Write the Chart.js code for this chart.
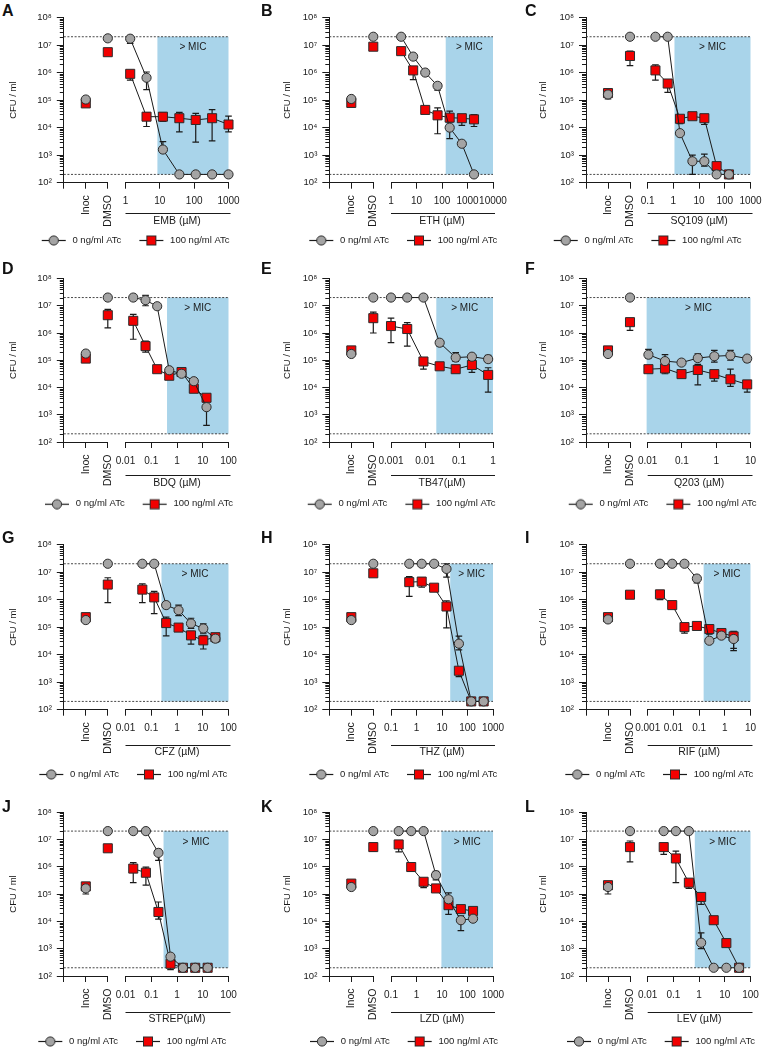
<!DOCTYPE html>
<html>
<head>
<meta charset="utf-8">
<script src="https://cdn.jsdelivr.net/npm/chart.js@4.4.1/dist/chart.umd.min.js"></script>
<style>
  html, body { margin: 0; padding: 0; background: #fff; width: 768px; height: 1049px; overflow: hidden; }
  canvas { position: absolute; }
  .tag { position: absolute; font: bold 16px "Liberation Sans", Arial, sans-serif; line-height: 16px; color: #111; }
</style>
</head>
<body>
<script>
// ---- data ----
const seriesNames = ['0 ng/ml ATc', '100 ng/ml ATc'];
const ctrlLabels = ['Inoc', 'DMSO'];
const yMajor = [1e2, 1e3, 1e4, 1e5, 1e6, 1e7, 1e8];
const yTickLabels = ['10²', '10³', '10⁴', '10⁵', '10⁶', '10⁷', '10⁸'];
const limitHigh = 2e7;
const limitLow = 200;
const panelTags = ['A', 'B', 'C', 'D', 'E', 'F', 'G', 'H', 'I', 'J', 'K', 'L'];
const drugTitles = ['EMB (µM)', 'ETH (µM)', 'SQ109 (µM)', 'BDQ (µM)', 'TB47(µM)', 'Q203 (µM)',
  'CFZ (µM)', 'THZ (µM)', 'RIF (µM)', 'STREP(µM)', 'LZD (µM)', 'LEV (µM)'];
const micValues = [8.5, 140, 1.1, 0.41, 0.0215, 0.0093, 0.25, 21, 0.15, 0.3, 9.5, 0.68];

// values: [Inoc, DMSO, then one per concentration]; errors: [low, high] or null
const concA = [1.37, 4.1, 12.3, 37, 111, 333, 1000];
const grayA = [1.05e5, 1.75e7, 1.7e7, 6.5e5, 1.6e3, 200, 200, 200, 200];
const redA = [7.6e4, 5.5e6, 9e5, 2.5e4, 2.5e4, 2.2e4, 1.9e4, 2.2e4, 1.3e4];
const grayErrA = [null, null, [1.15e7, 2e7], [2.4e5, 1.05e6], [1.3e3, 3.1e3], null, null, null, null];
const redErrA = [null, null, [5.3e5, 1e6], [1.1e4, 3.5e4], [1.7e4, 3.5e4], [7e3, 3.6e4], [3e3, 3.3e4], [3.3e3, 4.5e4], [7e3, 2.6e4]];
const xTicksA = ['1', '10', '100', '1000'];

const concB = [2.5, 7.4, 22, 67, 200, 600, 1800];
const grayB = [1.1e5, 2e7, 2e7, 3.8e6, 1e6, 3.3e5, 1e4, 2.6e3, 200];
const redB = [7.9e4, 8.7e6, 6e6, 1.2e6, 4.4e4, 2.8e4, 2.3e4, 2.2e4, 2e4];
const grayErrB = [null, null, null, null, null, [2.3e5, 4.2e5], [4e3, 2.5e4], null, null];
const redErrB = [null, null, null, [5.5e5, 1.6e6], null, [6e3, 5.2e4], [1.6e4, 4e4], [1.2e4, 3e4], [1.1e4, 3e4]];
const xTicksB = ['1', '10', '100', '1000', '10000'];

const concC = [0.2, 0.6, 1.8, 5.5, 16, 48, 145];
const grayC = [1.6e5, 2e7, 2e7, 2e7, 6.3e3, 6e2, 6e2, 200, 200];
const redC = [1.8e5, 4e6, 1.2e6, 4e5, 2.1e4, 2.6e4, 2.2e4, 4e2, 200];
const grayErrC = [[1.1e5, 2.2e5], null, null, null, null, [200, 1e3], [4e2, 1.1e3], null, null];
const redErrC = [null, [1.8e6, 6e6], [5.3e5, 1.9e6], [1.9e5, 5.6e5], [1.4e4, 2.6e4], null, [1.3e4, 2.6e4], [3.3e2, 5e2], null];
const xTicksC = ['0.1', '1', '10', '100', '1000'];

const concD = [0.02, 0.06, 0.17, 0.5, 1.5, 4.5, 14];
const grayD = [1.76e5, 2e7, 2e7, 1.6e7, 9.6e6, 4.3e4, 3.2e4, 1.7e4, 1.9e3];
const redD = [1.15e5, 4.5e6, 2.8e6, 3.3e5, 4.7e4, 2.7e4, 3.7e4, 9e3, 4.2e3];
const grayErrD = [null, null, null, [1e7, 2.4e7], null, null, null, null, [4.1e2, 3e3]];
const redErrD = [null, [1.55e6, 7.4e6], [5.9e5, 4.8e6], [2e5, 5e5], null, null, null, null, null];
const xTicksD = ['0.01', '0.1', '1', '10', '100'];

const concE = [0.001, 0.003, 0.009, 0.027, 0.08, 0.24, 0.72];
const grayE = [1.7e5, 2e7, 2e7, 2e7, 2e7, 4.4e5, 1.25e5, 1.35e5, 1.1e5];
const redE = [2.3e5, 3.5e6, 1.8e6, 1.4e6, 9e4, 6e4, 4.7e4, 6.7e4, 2.9e4];
const grayErrE = [null, null, null, null, null, [3.3e5, 5.2e5], [9e4, 1.9e5], [1.1e5, 1.6e5], [8.5e4, 1.5e5]];
const redErrE = [null, [1e6, 5.8e6], [4.4e5, 3.5e6], [3.3e5, 2.4e6], [4.7e4, 1.2e5], null, [3.5e4, 6e4], [3.6e4, 1e5], [6.8e3, 5.3e4]];
const xTicksE = ['0.001', '0.01', '0.1', '1'];

const concF = [0.0105, 0.032, 0.097, 0.29, 0.88, 2.6, 8];
const grayF = [1.7e5, 2e7, 1.6e5, 9.3e4, 8.2e4, 1.2e5, 1.4e5, 1.5e5, 1.15e5];
const redF = [2.3e5, 2.5e6, 4.7e4, 5e4, 3.1e4, 4.4e4, 3.1e4, 2e4, 1.3e4];
const grayErrF = [null, null, [1.2e5, 2.5e5], [6.5e4, 1.6e5], null, [9e4, 1.7e5], [8.5e4, 2.3e5], [1e5, 2.3e5], [8.5e4, 1.4e5]];
const redErrF = [null, [1.25e6, 3e6], [3.8e4, 6e4], [3.2e4, 6e4], null, [1.25e4, 7e4], [1.7e4, 4.2e4], [1.1e4, 4.7e4], [6.8e3, 1.7e4]];
const xTicksF = ['0.01', '0.1', '1', '10'];

const concG = [0.045, 0.13, 0.38, 1.15, 3.5, 10.5, 31];
const grayG = [1.8e5, 2e7, 2e7, 2e7, 6.3e5, 4.1e5, 1.35e5, 8.9e4, 3.8e4];
const redG = [2.3e5, 3.5e6, 2.3e6, 1.2e6, 1.4e5, 9.6e4, 5e4, 3.3e4, 4.3e4];
const grayErrG = [null, null, null, null, null, [2.6e5, 6.3e5], [9e4, 2.1e5], [6e4, 1.3e5], [2.8e4, 5e4]];
const redErrG = [null, [7.8e5, 6.2e6], [7.7e5, 3.7e6], [3.1e5, 2e6], [4.8e4, 2.3e5], null, [2.4e4, 7e4], [1.6e4, 5e4], [3.2e4, 5.2e4]];
const xTicksG = ['0.01', '0.1', '1', '10', '100'];

const concH = [0.52, 1.6, 4.9, 15, 46, 140, 430];
const grayH = [1.8e5, 2e7, 2e7, 2e7, 2e7, 1.3e7, 2.5e4, 200, 200];
const redH = [2.3e5, 9e6, 4.3e6, 4.5e6, 2.7e6, 5.6e5, 2.6e3, 200, 200];
const grayErrH = [null, null, null, null, null, [6.5e6, 2e7], [1.5e4, 4.7e4], null, null];
const redErrH = [null, null, [1.3e6, 6.8e6], [2.8e6, 6.3e6], null, [9.3e4, 9e5], [1.6e3, 3e3], null, null];
const xTicksH = ['0.1', '1', '10', '100', '1000'];

const concI = [0.003, 0.009, 0.027, 0.082, 0.25, 0.74, 2.2];
const grayI = [1.9e5, 2e7, 2e7, 2e7, 2e7, 5.8e6, 3.2e4, 4.9e4, 3.7e4];
const redI = [2.3e5, 1.5e6, 1.55e6, 6.3e5, 1e5, 1.1e5, 8.5e4, 6.1e4, 4.6e4];
const grayErrI = [null, null, null, null, null, [4e6, 7e6], null, null, [1.4e4, 6e4]];
const redErrI = [null, null, [1e6, 1.8e6], null, [6e4, 1.2e5], null, [5.5e4, 1e5], null, [1.7e4, 7e4]];
const xTicksI = ['0.001', '0.01', '0.1', '1', '10'];

const concJ = [0.02, 0.062, 0.19, 0.56, 1.7, 5.1, 15.5];
const grayJ = [1.6e5, 2e7, 2e7, 2e7, 3.2e6, 5.1e2, 200, 200, 200];
const redJ = [1.9e5, 4.7e6, 8.5e5, 6e5, 2.2e4, 2.8e2, 200, 200, 200];
const grayErrJ = [[1e5, 2.2e5], null, null, null, [1.7e6, 4.3e6], [2.5e2, 6e2], null, null, null];
const redErrJ = [null, null, [2.6e5, 1.4e6], [2.1e5, 9.6e5], [1.2e4, 5.1e4], [1.7e2, 3.9e2], null, null, null];
const xTicksJ = ['0.01', '0.1', '1', '10', '100'];

const concK = [0.2, 0.62, 1.9, 5.8, 18, 55, 165];
const grayK = [1.8e5, 2e7, 2e7, 2e7, 2e7, 4.9e5, 6.4e4, 1.1e4, 1.25e4];
const redK = [2.4e5, 5.2e6, 6.5e6, 9.7e5, 2.8e5, 1.6e5, 3.9e4, 2.8e4, 2.4e4];
const grayErrK = [null, null, null, null, null, [3.3e5, 6.7e5], [3e4, 1.1e5], [4.6e3, 1.6e4], null];
const redErrK = [null, [3.6e6, 6.5e6], [3.5e6, 7e6], [7e5, 1e6], [1.7e5, 3.3e5], null, [1.8e4, 6e4], null, null];
const xTicksK = ['0.1', '1', '10', '100', '1000'];

const concL = [0.042, 0.125, 0.4, 1.2, 3.7, 11.5, 36];
const grayL = [1.8e5, 2e7, 2e7, 2e7, 2e7, 1.65e3, 200, 200, 200];
const redL = [2.1e5, 5.2e6, 5.2e6, 2e6, 2.6e5, 7.8e4, 1.1e4, 1.6e3, 200];
const grayErrL = [[1e5, 2.4e5], null, null, null, null, [1e3, 3.8e3], null, null, null];
const redErrL = [null, [1.5e6, 8.7e6], [2.8e6, 6e6], [2.6e5, 3.7e6], [1.6e5, 3.3e5], [4.2e4, 9.5e4], null, null, null];
const xTicksL = ['0.01', '0.1', '1', '10', '100'];

const panels = [
  [concA, grayA, redA, grayErrA, redErrA, xTicksA],
  [concB, grayB, redB, grayErrB, redErrB, xTicksB],
  [concC, grayC, redC, grayErrC, redErrC, xTicksC],
  [concD, grayD, redD, grayErrD, redErrD, xTicksD],
  [concE, grayE, redE, grayErrE, redErrE, xTicksE],
  [concF, grayF, redF, grayErrF, redErrF, xTicksF],
  [concG, grayG, redG, grayErrG, redErrG, xTicksG],
  [concH, grayH, redH, grayErrH, redErrH, xTicksH],
  [concI, grayI, redI, grayErrI, redErrI, xTicksI],
  [concJ, grayJ, redJ, grayErrJ, redErrJ, xTicksJ],
  [concK, grayK, redK, grayErrK, redErrK, xTicksK],
  [concL, grayL, redL, grayErrL, redErrL, xTicksL],
];

// ---- layout of the 4x3 grid (page pixels) ----
const colGeo = [
  { left: 0, axis: 63.8, right: 228.5, title: 13.3, tag: 2 },
  { left: 256, axis: 329.3, right: 493, title: 287.7, tag: 261 },
  { left: 512, axis: 586, right: 750.5, title: 543.7, tag: 525 },
];
const rowGeo = [
  { top: 17.5, bottom: 182.7, legend: 240, xtitle: 38, tag: 16.7 },
  { top: 278.5, bottom: 442, legend: 503.7, xtitle: 40.7, tag: 274 },
  { top: 544.5, bottom: 709.7, legend: 774, xtitle: 42.7, tag: 543 },
  { top: 812, bottom: 976, legend: 1041, xtitle: 43.3, tag: 812 },
];
const legendStart = [41.7, 53.3, 41.7, 45, 51.7, 56.7, 39.3, 53.3, 53.3, 38.3, 54, 55];

const FONT = '"Liberation Sans", Arial, sans-serif';
const ink = '#1a1a1a';
const grayFill = '#a4a4a4';
const redFill = '#f20000';
const edge = '#2b2b2b';
const micFill = '#a9d4ea';
const LPAD = 4;       // legend padding
const LEAD = 14;      // blank lead-in of each legend icon (widens the item gap)

function makeIcon(kind) {
  const c = document.createElement('canvas');
  c.width = LEAD + 26; c.height = 12;
  const g = c.getContext('2d');
  g.translate(LEAD, 0);
  g.strokeStyle = ink; g.lineWidth = 1.2;
  g.beginPath(); g.moveTo(0, 6.5); g.lineTo(24, 6.5); g.stroke();
  g.lineWidth = 1;
  if (kind === 'circle') {
    g.beginPath(); g.arc(12, 6.5, 4.6, 0, Math.PI * 2);
    g.fillStyle = grayFill; g.fill(); g.strokeStyle = edge; g.stroke();
  } else {
    g.fillStyle = redFill; g.fillRect(7.5, 2, 9, 9);
    g.strokeStyle = edge; g.strokeRect(7.5, 2, 9, 9);
  }
  return c;
}
const icons = [makeIcon('circle'), makeIcon('rect')];

const extras = {
  id: 'extras',
  beforeDatasetsDraw(chart, args, o) {
    const { ctx, chartArea: a, scales } = chart;
    const y = scales.y, xd = scales.xd;
    const yHi = y.getPixelForValue(o.high), yLo = y.getPixelForValue(o.low);
    const x0 = Math.max(xd.getPixelForValue(o.mic), a.left), x1 = xd.right;
    ctx.save();
    ctx.fillStyle = micFill;
    ctx.fillRect(x0, yHi, x1 - x0, yLo - yHi);
    ctx.fillStyle = ink;
    ctx.font = '10px ' + FONT;
    ctx.textAlign = 'center';
    ctx.textBaseline = 'middle';
    ctx.fillText('> MIC', (x0 + x1) / 2, yHi + 11);
    // detection limits
    ctx.strokeStyle = '#333';
    ctx.lineWidth = 0.9;
    ctx.setLineDash([2, 1.6]);
    [yHi, yLo].forEach(py => {
      ctx.beginPath(); ctx.moveTo(a.left, py); ctx.lineTo(a.right, py); ctx.stroke();
    });
    ctx.setLineDash([]);
    // error bars
    ctx.strokeStyle = ink;
    ctx.lineWidth = 1.2;
    chart.data.datasets.forEach(ds => {
      const xs = scales[ds.xAxisID];
      ds.data.forEach((pt, j) => {
        const e = ds.errors[j];
        if (!e) return;
        const px = xs.getPixelForValue(pt.x);
        const pl = y.getPixelForValue(e[0]), ph = y.getPixelForValue(e[1]);
        ctx.beginPath();
        ctx.moveTo(px, pl); ctx.lineTo(px, ph);
        ctx.moveTo(px - 3.3, pl); ctx.lineTo(px + 3.3, pl);
        ctx.moveTo(px - 3.3, ph); ctx.lineTo(px + 3.3, ph);
        ctx.stroke();
      });
    });
    ctx.restore();
  },
  afterDraw(chart, args, o) {
    const { ctx, chartArea: a, scales } = chart;
    const y = scales.y, xd = scales.xd;
    ctx.save();
    ctx.strokeStyle = ink;
    ctx.lineWidth = 1;
    // minor log ticks on the y axis
    for (let e = 2; e < 8; e++) {
      for (let m = 2; m < 10; m++) {
        const py = Math.round(y.getPixelForValue(m * Math.pow(10, e))) + 0.5;
        ctx.beginPath(); ctx.moveTo(y.right - 4, py); ctx.lineTo(y.right, py); ctx.stroke();
      }
    }
    // rule above the drug axis title
    const ly = Math.round(a.bottom + o.bracket) + 0.5;
    ctx.beginPath(); ctx.moveTo(xd.left, ly); ctx.lineTo(xd.right + 2, ly); ctx.stroke();
    ctx.restore();
  }
};

function series(kind, xAxisID, pts, errs) {
  const round = kind === 0;
  return {
    label: seriesNames[kind],
    xAxisID, yAxisID: 'y',
    data: pts, errors: errs,
    showLine: xAxisID === 'xd',
    borderColor: ink, borderWidth: 1,
    pointStyle: round ? 'circle' : 'rect',
    pointRadius: round ? 4.6 : 6.4,
    pointBackgroundColor: round ? grayFill : redFill,
    pointBorderColor: edge,
    pointBorderWidth: 1,
    clip: false,
  };
}

panels.forEach(([conc, gray, red, grayErr, redErr, xTicks], k) => {
  const cg = colGeo[k % 3], rg = rowGeo[Math.floor(k / 3)];
  const tag = document.createElement('div');
  tag.className = 'tag';
  tag.textContent = panelTags[k];
  tag.style.left = cg.tag + 'px';
  tag.style.top = (rg.tag - 13.5) + 'px';
  document.body.appendChild(tag);

  const axisX = cg.axis - cg.left, chartR = cg.right - cg.left, titleX = cg.title - cg.left;
  const padL = legendStart[k] - LEAD - LPAD;
  const top0 = Math.floor(rg.top) - 14;
  const padT = rg.top - top0;
  const plotH = rg.bottom - rg.top;
  const hX = rg.legend - (LPAD + 4.75) - rg.bottom;
  const cw = Math.ceil(padL + 252);
  const ch = Math.ceil(padT + plotH + hX + LPAD + 34);
  const wY = axisX - padL;
  const rW = cw - chartR;
  const plotW = chartR - axisX;
  const tickVals = xTicks.map(Number);

  const cv = document.createElement('canvas');
  cv.width = cw; cv.height = ch;
  cv.style.left = cg.left + 'px';
  cv.style.top = top0 + 'px';
  document.body.appendChild(cv);

  const drugPts = s => conc.map((x, i) => ({ x, y: s[i + 2] }));
  const ctrlPts = s => [1, 2].map((x, i) => ({ x, y: s[i] }));

  const chart = new Chart(cv, {
    type: 'scatter',
    data: {
      datasets: [
        series(0, 'xd', drugPts(gray), grayErr.slice(2)),
        series(1, 'xd', drugPts(red), redErr.slice(2)),
        series(0, 'xc', ctrlPts(gray), grayErr.slice(0, 2)),
        series(1, 'xc', ctrlPts(red), redErr.slice(0, 2)),
      ]
    },
    options: {
      responsive: false,
      animation: false,
      devicePixelRatio: 1,
      events: [],
      layout: { padding: { left: padL, top: padT, right: 0, bottom: 0 } },
      plugins: {
        tooltip: { enabled: false },
        legend: {
          position: 'bottom',
          align: 'start',
          labels: {
            usePointStyle: true,
            pointStyleWidth: LEAD + 26,
            padding: LPAD,
            color: ink,
            font: { family: FONT, size: 9.5 },
            generateLabels: () => seriesNames.map((text, i) => ({
              text, pointStyle: icons[i], fillStyle: 'rgba(0,0,0,0)', strokeStyle: 'rgba(0,0,0,0)',
              lineWidth: 0, hidden: false, datasetIndex: i, fontColor: ink
            }))
          }
        },
        extras: { mic: micValues[k], high: limitHigh, low: limitLow, bracket: rg.xtitle - 7.5 }
      },
      scales: {
        y: {
          type: 'logarithmic', position: 'left', min: 1e2, max: 1e8,
          afterFit: s => { s.width = wY; },
          afterBuildTicks: s => { s.ticks = yMajor.map(value => ({ value })); },
          ticks: { autoSkip: false, padding: 5, color: ink, font: { family: FONT, size: 9.5 },
            callback: v => yTickLabels[yMajor.indexOf(v)] || '' },
          grid: { drawOnChartArea: false, tickLength: 7, color: ink, tickColor: ink },
          border: { color: ink, width: 1 },
          title: { display: true, text: 'CFU / ml', color: ink, font: { family: FONT, size: 9.5 },
            padding: { top: (titleX - 5.7) - padL, bottom: 0 } }
        },
        yr: {
          type: 'linear', axis: 'y', position: 'right', display: true,
          grid: { display: false }, ticks: { display: false }, border: { display: false },
          afterFit: s => { s.width = rW; }
        },
        xc: {
          type: 'linear', axis: 'x', position: 'bottom', stack: 'bx', stackWeight: 44,
          min: 0, max: 2,
          afterFit: s => { s.height = hX; },
          afterBuildTicks: s => { s.ticks = [0, 1, 2].map(value => ({ value })); },
          ticks: { autoSkip: false, minRotation: 90, maxRotation: 90, padding: 6.5, color: ink,
            font: { family: FONT, size: 10.5 },
            callback: v => ['', ...ctrlLabels][v] },
          grid: { drawOnChartArea: false, tickLength: 6, color: ink },
          border: { color: ink, width: 1 }
        },
        xg: {
          type: 'linear', axis: 'x', position: 'bottom', stack: 'bx', stackWeight: 17.7,
          afterFit: s => { s.height = hX; },
          grid: { display: false }, ticks: { display: false }, border: { display: false }
        },
        xd: {
          type: 'logarithmic', axis: 'x', position: 'bottom', stack: 'bx', stackWeight: plotW - 61.7,
          min: tickVals[0], max: tickVals[tickVals.length - 1],
          afterFit: s => { s.height = hX; },
          afterBuildTicks: s => { s.ticks = tickVals.map(value => ({ value })); },
          ticks: { autoSkip: false, minRotation: 0, maxRotation: 0, padding: 7, color: ink,
            font: { family: FONT, size: 10 },
            callback: (v, i) => xTicks[i] },
          grid: { drawOnChartArea: false, tickLength: 6, color: ink },
          border: { color: ink, width: 1 },
          title: { display: true, text: drugTitles[k], color: ink, font: { family: FONT, size: 10.5 },
            padding: { top: 0, bottom: hX - rg.xtitle - 6.3 } }
        }
      }
    },
    plugins: [extras]
  });

  // pin the plot bottom exactly where the reference has it
  const diff = chart.chartArea.bottom - (rg.bottom - top0);
  if (Math.abs(diff) > 0.05) {
    chart.options.layout.padding.bottom = Math.max(0, diff);
    chart.update();
  }
});
</script>
</body>
</html>
